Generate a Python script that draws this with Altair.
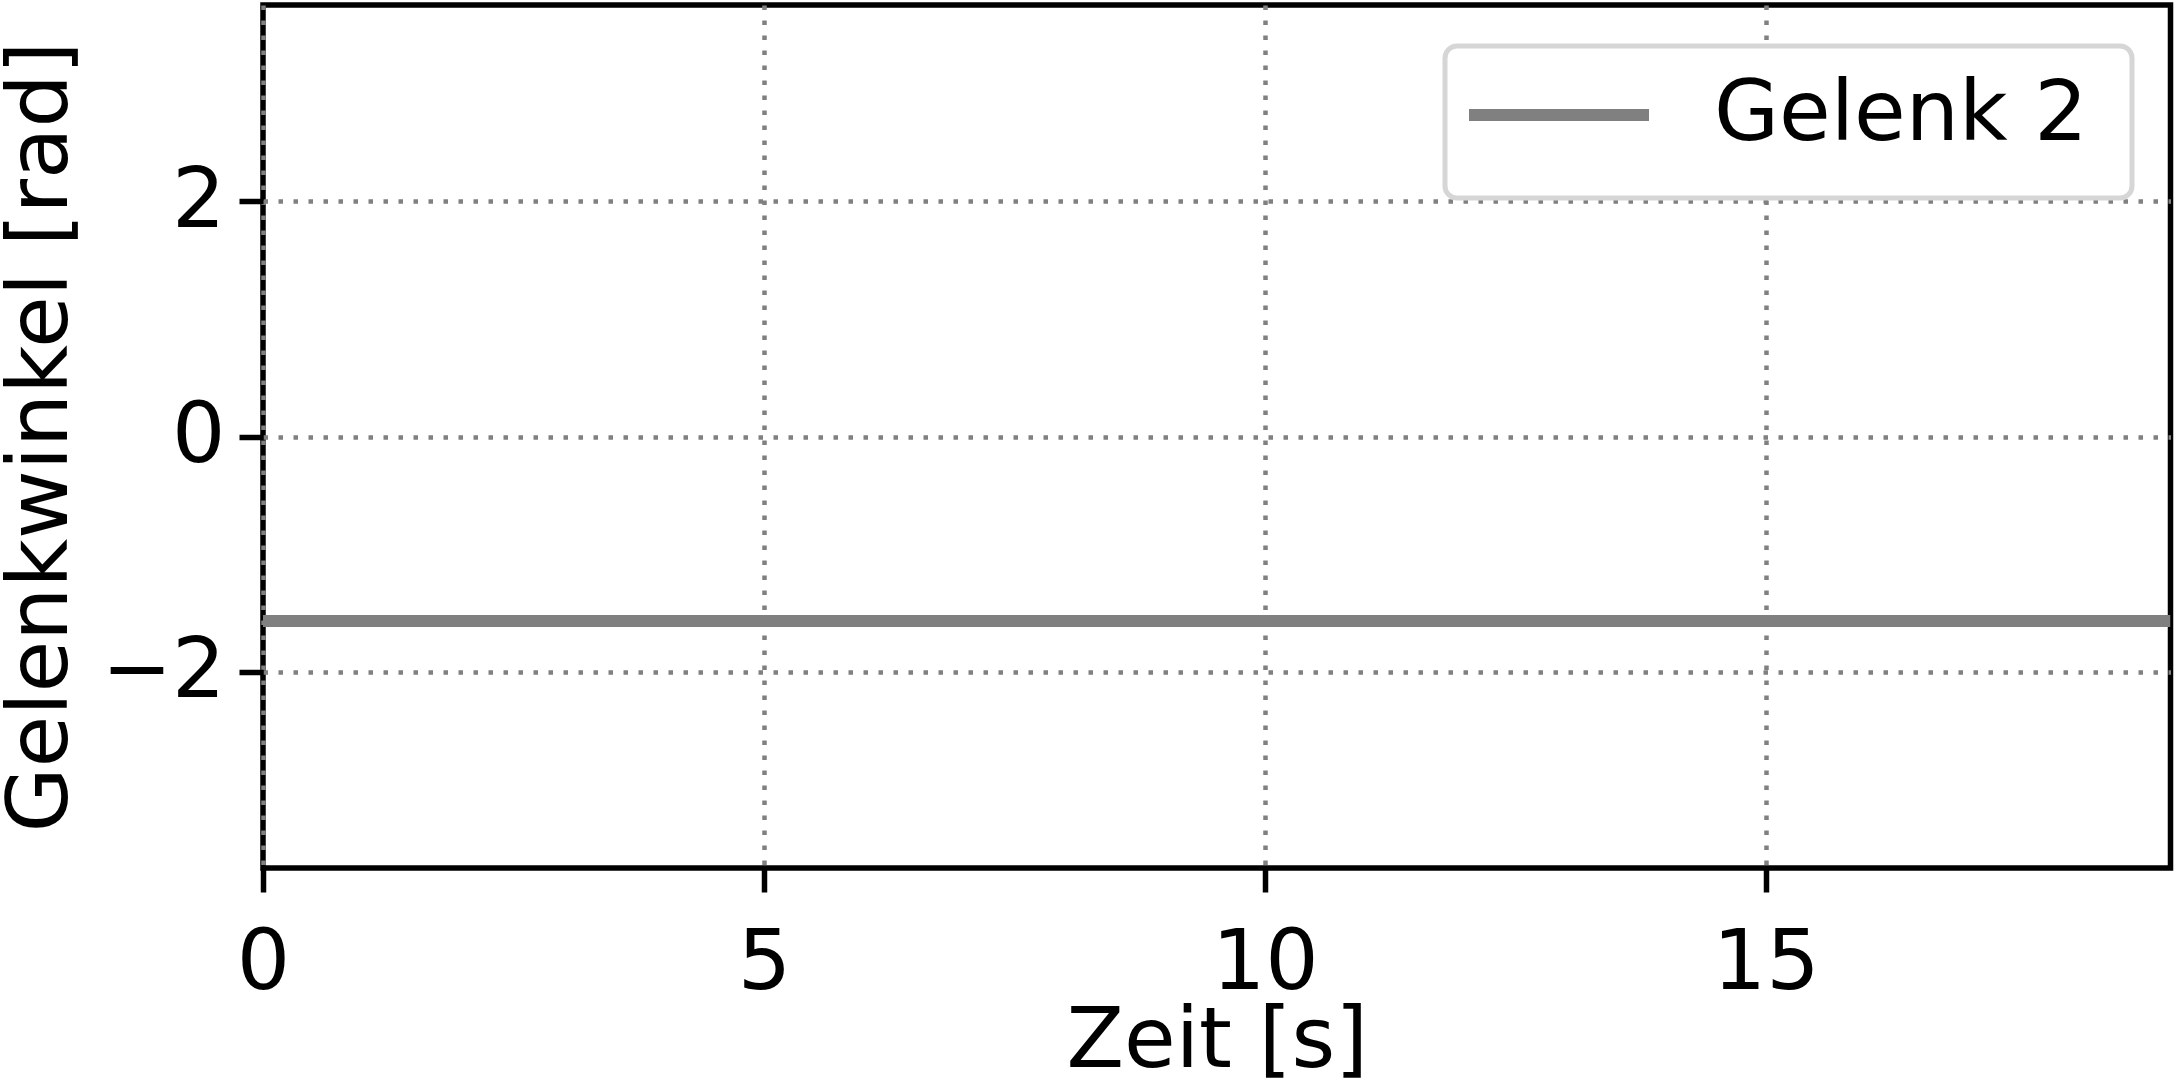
import altair as alt
import pandas as pd

# Data
zeit = [0.0, 19.04]            # s
gelenk2 = [-1.57, -1.57]       # rad
series = ["Gelenk 2", "Gelenk 2"]

x_ticks = [0, 5, 10, 15]
y_ticks = [-2, 0, 2]

df = pd.DataFrame({"Zeit": zeit, "Winkel": gelenk2, "Serie": series})

FONT = "DejaVu Sans"
FS = 84

chart = alt.Chart(df).mark_line(strokeWidth=12, clip=True).encode(
    x=alt.X(
        "Zeit:Q",
        scale=alt.Scale(domain=[0, 19.04], nice=False, zero=False),
        axis=alt.Axis(
            values=x_ticks,
            title="Zeit [s]",
            titleY=198,
            titleBaseline="alphabetic",
            labelPadding=30,
            labelFlush=False,
        ),
    ),
    y=alt.Y(
        "Winkel:Q",
        scale=alt.Scale(domain=[-3.67, 3.67], nice=False, zero=False),
        axis=alt.Axis(
            values=y_ticks,
            title="Gelenkwinkel [rad]",
            titleAngle=270,
            titleX=-197,
            titleY=431.5,
            titleAlign="center",
            titleBaseline="alphabetic",
            labelPadding=14,
        ),
    ),
    color=alt.Color(
        "Serie:N",
        scale=alt.Scale(domain=["Gelenk 2"], range=["#808080"]),
        legend=alt.Legend(
            title=None,
            orient="none",
            legendX=1182,
            legendY=41,
            # line of 180 px; trailing move-to only widens the legend frame
            symbolType="M-1,0H3M12.8,0.9",
            symbolSize=8100,
            symbolStrokeWidth=12,
            labelFont=FONT,
            labelFontSize=FS,
            labelColor="black",
            labelLimit=0,
            labelOffset=149,
            padding=18,
            strokeColor="#d6d6d6",
            cornerRadius=12,
            fillColor="white",
        ),
    ),
).properties(
    width=1907.5,
    height=863,
    autosize=alt.AutoSizeParams(type="none"),
    padding={"left": 263, "top": 5, "right": 5.5, "bottom": 221},
    background="white",
).configure_view(
    stroke="black",
    strokeWidth=5.5,
).configure_legend(
    strokeWidth=5,
).configure_axis(
    domain=False,
    grid=True,
    gridColor="#808080",
    gridWidth=4.5,
    gridDash=[4.5, 10.5],
    ticks=True,
    tickColor="black",
    tickWidth=5.5,
    tickSize=24,
    labelFont=FONT,
    labelFontSize=FS,
    labelColor="black",
    titleFont=FONT,
    titleFontSize=FS,
    titleFontWeight="normal",
    titleColor="black",
)

chart.save("out.html", embed_options={"renderer": "svg", "actions": False})
